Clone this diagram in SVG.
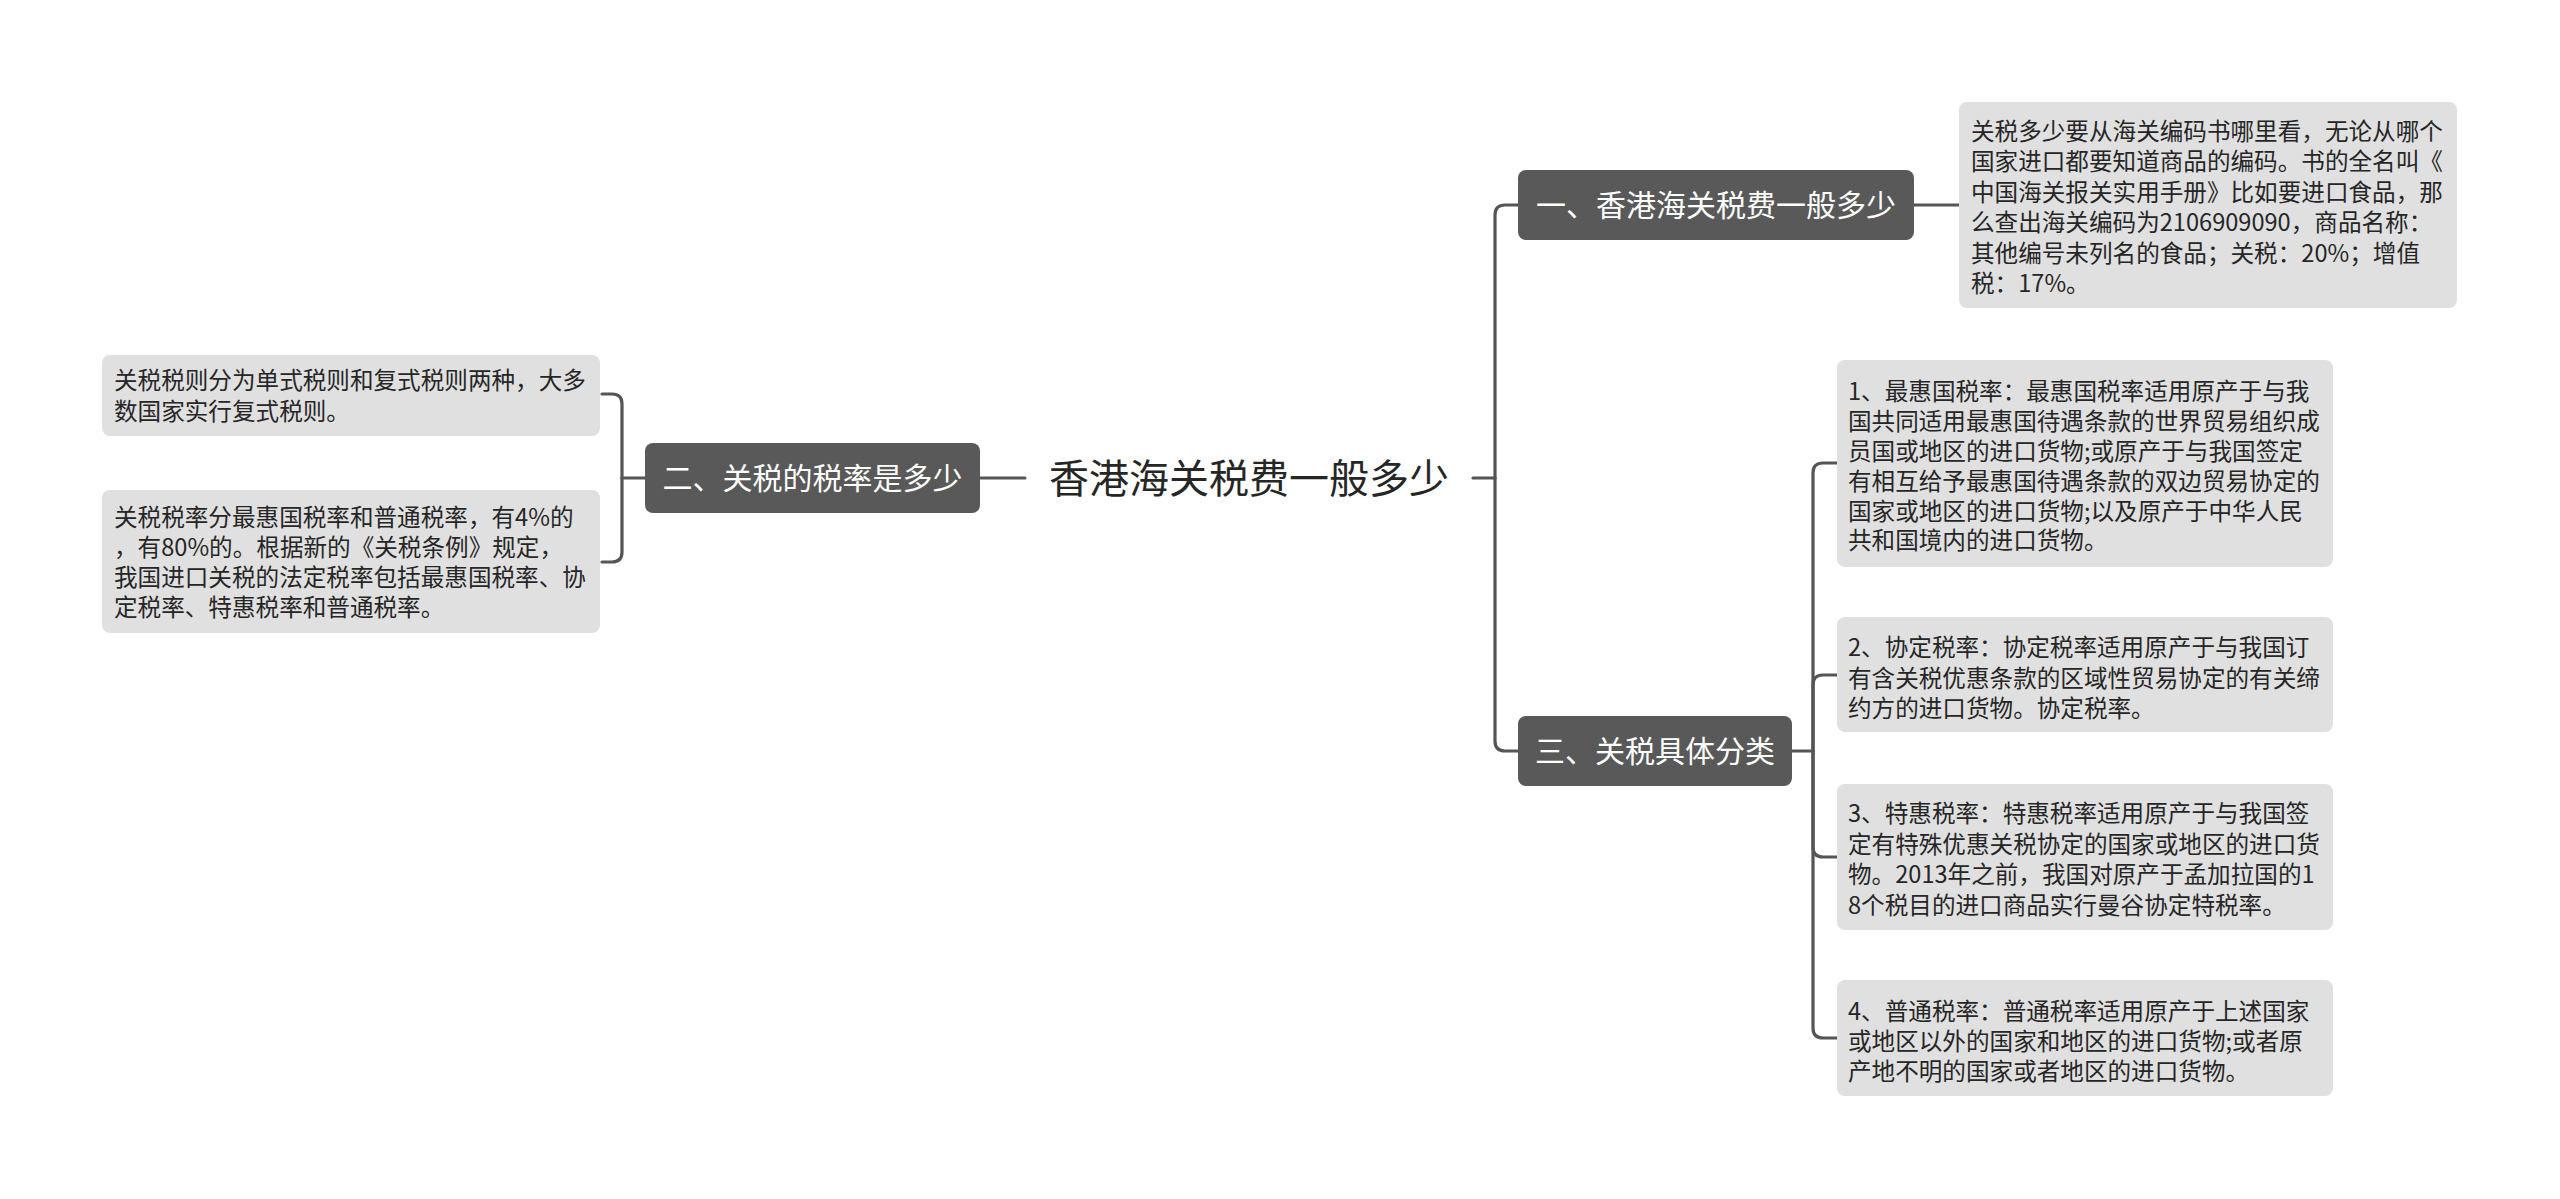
<svg xmlns="http://www.w3.org/2000/svg" width="2560" height="1199" viewBox="0 0 2560 1199">
<style>
.bg{fill:#ffffff}
.conn{fill:none;stroke:#555555;stroke-width:3.2;stroke-linecap:round}
.topic{fill:#595959}
.topic-t{fill:#ffffff;font-family:"Noto Sans CJK SC","Noto Sans",sans-serif;font-size:30px;text-anchor:middle}
.leaf{fill:#e0e0e0}
.leaf-t{fill:#262626;font-family:"Noto Sans CJK SC","Noto Sans",sans-serif;font-size:23.6px}
.root-t{fill:#262626;font-family:"Noto Sans CJK SC","Noto Sans",sans-serif;font-size:40px;text-anchor:middle}
</style>
<rect class="bg" x="0" y="0" width="2560" height="1199"/>
<g id="connectors">
<path class="conn" d="M1025,478 H980"/>
<path class="conn" d="M645,478 H622"/>
<path class="conn" d="M622,478 V404 Q622,394 612,394 H602"/>
<path class="conn" d="M622,478 V552 Q622,562 612,562 H602"/>
<path class="conn" d="M1473,478 H1495"/>
<path class="conn" d="M1495,478 V215 Q1495,205 1505,205 H1518"/>
<path class="conn" d="M1495,478 V741 Q1495,751 1505,751 H1518"/>
<path class="conn" d="M1914,205 H1959"/>
<path class="conn" d="M1792,751 H1813"/>
<path class="conn" d="M1813,751 V473 Q1813,463 1823,463 H1837"/>
<path class="conn" d="M1813,751 V685 Q1813,675 1823,675 H1837"/>
<path class="conn" d="M1813,751 V847 Q1813,857 1823,857 H1837"/>
<path class="conn" d="M1813,751 V1028 Q1813,1038 1823,1038 H1837"/>
</g>
<g id="root">
<text class="root-t" x="1249" y="493">香港海关税费一般多少</text>
</g>
<g id="topic2">
<rect class="topic" x="645" y="443" width="335" height="70" rx="8"/>
<text class="topic-t" x="812.5" y="489">二、关税的税率是多少</text>
</g>
<g id="leaf2a">
<rect class="leaf" x="102" y="355" width="498" height="81" rx="8"/>
<text class="leaf-t" x="114" y="389">关税税则分为单式税则和复式税则两种，大多</text>
<text class="leaf-t" x="114" y="420">数国家实行复式税则。</text>
</g>
<g id="leaf2b">
<rect class="leaf" x="102" y="490" width="498" height="143" rx="8"/>
<text class="leaf-t" x="114" y="526">关税税率分最惠国税率和普通税率，有4%的</text>
<text class="leaf-t" x="114" y="556">，有80%的。根据新的《关税条例》规定，</text>
<text class="leaf-t" x="114" y="586">我国进口关税的法定税率包括最惠国税率、协</text>
<text class="leaf-t" x="114" y="616">定税率、特惠税率和普通税率。</text>
</g>
<g id="topic1">
<rect class="topic" x="1518" y="170" width="396" height="70" rx="8"/>
<text class="topic-t" x="1716" y="216">一、香港海关税费一般多少</text>
</g>
<g id="leaf1">
<rect class="leaf" x="1959" y="102" width="498" height="206" rx="8"/>
<text class="leaf-t" x="1971" y="140">关税多少要从海关编码书哪里看，无论从哪个</text>
<text class="leaf-t" x="1971" y="170.4">国家进口都要知道商品的编码。书的全名叫《</text>
<text class="leaf-t" x="1971" y="200.8">中国海关报关实用手册》比如要进口食品，那</text>
<text class="leaf-t" x="1971" y="231.2">么查出海关编码为2106909090，商品名称：</text>
<text class="leaf-t" x="1971" y="261.6">其他编号未列名的食品；关税：20%；增值</text>
<text class="leaf-t" x="1971" y="292">税：17%。</text>
</g>
<g id="topic3">
<rect class="topic" x="1518" y="716" width="274" height="70" rx="8"/>
<text class="topic-t" x="1655" y="762">三、关税具体分类</text>
</g>
<g id="leaf3a">
<rect class="leaf" x="1837" y="360" width="496" height="207" rx="8"/>
<text class="leaf-t" x="1848" y="400">1、最惠国税率：最惠国税率适用原产于与我</text>
<text class="leaf-t" x="1848" y="430">国共同适用最惠国待遇条款的世界贸易组织成</text>
<text class="leaf-t" x="1848" y="460">员国或地区的进口货物;或原产于与我国签定</text>
<text class="leaf-t" x="1848" y="490">有相互给予最惠国待遇条款的双边贸易协定的</text>
<text class="leaf-t" x="1848" y="520">国家或地区的进口货物;以及原产于中华人民</text>
<text class="leaf-t" x="1848" y="549">共和国境内的进口货物。</text>
</g>
<g id="leaf3b">
<rect class="leaf" x="1837" y="617" width="496" height="115" rx="8"/>
<text class="leaf-t" x="1848" y="656">2、协定税率：协定税率适用原产于与我国订</text>
<text class="leaf-t" x="1848" y="686.5">有含关税优惠条款的区域性贸易协定的有关缔</text>
<text class="leaf-t" x="1848" y="717">约方的进口货物。协定税率。</text>
</g>
<g id="leaf3c">
<rect class="leaf" x="1837" y="784" width="496" height="146" rx="8"/>
<text class="leaf-t" x="1848" y="822">3、特惠税率：特惠税率适用原产于与我国签</text>
<text class="leaf-t" x="1848" y="852.5">定有特殊优惠关税协定的国家或地区的进口货</text>
<text class="leaf-t" x="1848" y="883">物。2013年之前，我国对原产于孟加拉国的1</text>
<text class="leaf-t" x="1848" y="913.5">8个税目的进口商品实行曼谷协定特税率。</text>
</g>
<g id="leaf3d">
<rect class="leaf" x="1837" y="980" width="496" height="116" rx="8"/>
<text class="leaf-t" x="1848" y="1020">4、普通税率：普通税率适用原产于上述国家</text>
<text class="leaf-t" x="1848" y="1050">或地区以外的国家和地区的进口货物;或者原</text>
<text class="leaf-t" x="1848" y="1080">产地不明的国家或者地区的进口货物。</text>
</g>
</svg>
